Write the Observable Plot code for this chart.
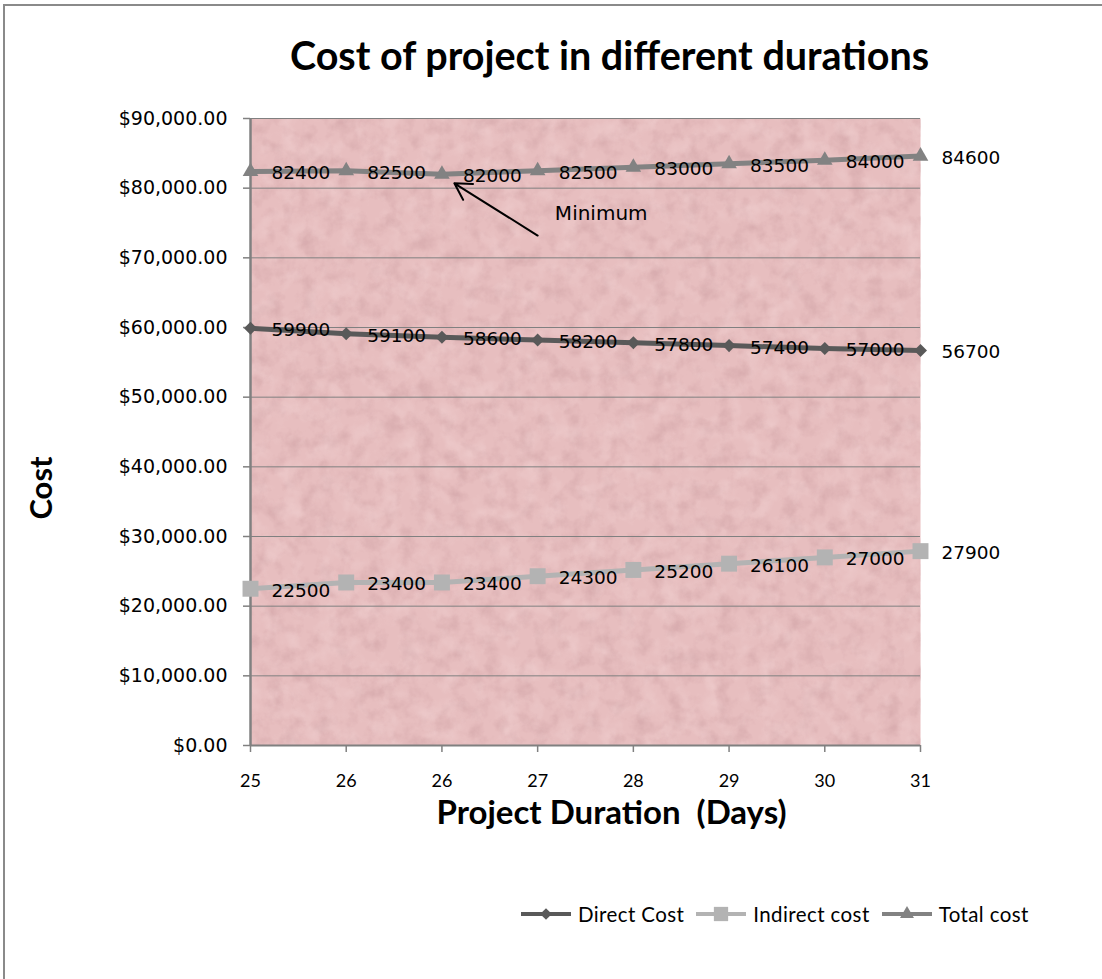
<!DOCTYPE html>
<html>
<head>
<meta charset="utf-8">
<script src="https://cdn.jsdelivr.net/npm/d3@7"></script>
<script src="https://cdn.jsdelivr.net/npm/@observablehq/plot@0.6"></script>
<style>
  html, body { margin: 0; padding: 0; background: #fff; }
  #wrap { position: relative; width: 1102px; height: 979px; overflow: hidden; }
  #border { position: absolute; left: 3px; top: 4px; right: -10px; bottom: -10px;
            border-top: 2px solid #8a8a8a; border-left: 2px solid #8a8a8a; pointer-events: none; }
  #chart svg { display: block; }
  g[aria-label="y-axis tick"] path, g[aria-label="x-axis tick"] path { stroke: #808080; stroke-width: 1.5; }
  #legend { position: absolute; left: 521px; top: 902px; display: flex; align-items: center;
            font-family: Lato, "Open Sans", sans-serif; font-size: 20.5px; letter-spacing: 0.4px; color: #000; }
  #legend .item { display: flex; align-items: center; margin-right: 12px; }
  #legend svg { margin-right: 7px; }
</style>
</head>
<body>
<div id="wrap">
  <div id="chart"></div>
  <div id="legend"></div>
  <div id="border"></div>
</div>
<script>
// ---- data ----
const xLabels = ["25", "26", "26", "27", "28", "29", "30", "31"];
const directCost = [59900, 59100, 58600, 58200, 57800, 57400, 57000, 56700];
const indirectCost = [22500, 23400, 23400, 24300, 25200, 26100, 27000, 27900];
const totalCost = [82400, 82500, 82000, 82500, 83000, 83500, 84000, 84600];
const seriesNames = ["Direct Cost", "Indirect cost", "Total cost"];
const seriesColors = ["#595959", "#b3b3b3", "#828282"];
const yTicks = [0, 10000, 20000, 30000, 40000, 50000, 60000, 70000, 80000, 90000];
const chartTitle = "Cost of project in different durations";
const xTitle = "Project Duration\u00a0 (Days)";
const yTitle = "Cost";
// annotation: arrow pointing at the minimum total cost (x in category-index units)
const minArrow = [{x1: 3.0, y1: 73200, x2: 2.13, y2: 80700}];
const minLabel = [{x: 3.18, y: 76400, text: "Minimum"}];

const seriesValues = [directCost, indirectCost, totalCost];
const seriesSymbols = [
  {symbol: "square", r: 5.2, rotate: 45},
  {symbol: "square", r: 9.0, rotate: 0},
  {symbol: "triangle", r: 5.8, rotate: 0}
];

const rows = seriesNames.map((name, s) =>
  seriesValues[s].map((v, i) => ({series: name, i, value: v})));

const bg = "#e7bebf";

const marks = [
  Plot.frame({fill: bg}),
  Plot.gridY(yTicks, {stroke: "#808080", strokeOpacity: 1, strokeWidth: 1}),
  Plot.ruleX([0], {stroke: "#808080", strokeWidth: 2.5}),
  Plot.ruleY([0], {stroke: "#808080", strokeWidth: 2}),
  Plot.axisY({ticks: yTicks, tickFormat: d => "$" + d3.format(",.2f")(d), tickSize: 7, tickPadding: 16,
              fontSize: 19, fontFamily: "DejaVu Sans", label: null}),
  Plot.axisX({ticks: d3.range(xLabels.length), tickFormat: i => xLabels[i], tickSize: 7, tickPadding: 22,
              fontSize: 18, fontFamily: "Lato", label: null})
];

rows.forEach((data, s) => {
  marks.push(Plot.line(data, {x: "i", y: "value", stroke: seriesColors[s], strokeWidth: 5}));
  marks.push(Plot.dot(data, {x: "i", y: "value", fill: seriesColors[s], stroke: "none",
    symbol: seriesSymbols[s].symbol, r: seriesSymbols[s].r, rotate: seriesSymbols[s].rotate}));
});
rows.forEach((data, s) => {
  marks.push(Plot.text(data, {x: "i", y: "value", text: d => String(d.value), dx: 21, dy: 2,
    textAnchor: "start", fontSize: 18.5, fontFamily: "DejaVu Sans", fill: "#000"}));
});

marks.push(
  Plot.arrow(minArrow, {x1: "x1", y1: "y1", x2: "x2", y2: "y2", stroke: "#000", strokeWidth: 2,
    headLength: 14, bend: 0}),
  Plot.text(minLabel, {x: "x", y: "y", text: "text", textAnchor: "start", fontSize: 20,
    fontFamily: "DejaVu Sans", fill: "#000"}),
  Plot.text([chartTitle], {text: d => d, frameAnchor: "top", lineAnchor: "middle", textAnchor: "middle",
    dx: 24, dy: -61, fontSize: 39.5, fontWeight: "bold", fontFamily: "Lato", fill: "#000"}),
  Plot.text([xTitle], {text: d => d, frameAnchor: "bottom", lineAnchor: "middle", textAnchor: "middle",
    dx: 26, dy: 68, fontSize: 33, fontWeight: "bold", fontFamily: "Lato", fill: "#000"}),
  Plot.text([yTitle], {text: d => d, frameAnchor: "left", lineAnchor: "middle", textAnchor: "middle",
    dx: -208, dy: 56, rotate: -90, fontSize: 31, fontWeight: "bold", fontFamily: "Lato", fill: "#000"})
);

const chart = Plot.plot({
  width: 1102,
  height: 979,
  marginLeft: 250,
  marginRight: 182,
  marginTop: 118,
  marginBottom: 234,
  x: {type: "linear", domain: [0, xLabels.length - 1]},
  y: {type: "linear", domain: [0, 90000]},
  style: {fontFamily: "DejaVu Sans", fontSize: "18px", background: "transparent", overflow: "visible", color: "#000"},
  marks
});
document.getElementById("chart").appendChild(chart);

// subtle paper texture over the plot area
(function addTexture() {
  const frame = chart.querySelector('[aria-label="frame"]');
  if (!frame) return;
  const ns = "http://www.w3.org/2000/svg";
  const defs = document.createElementNS(ns, "defs");
  defs.innerHTML = `<filter id="paper" x="0" y="0" width="100%" height="100%" color-interpolation-filters="sRGB">
    <feTurbulence type="fractalNoise" baseFrequency="0.06" numOctaves="4" seed="7" result="n"/>
    <feColorMatrix in="n" type="matrix" values="0 0 0 0 0.72  0 0 0 0 0.52  0 0 0 0 0.54  0 0 0 2.2 -0.95"/>
  </filter>
  <filter id="paper2" x="0" y="0" width="100%" height="100%" color-interpolation-filters="sRGB">
    <feTurbulence type="fractalNoise" baseFrequency="0.05" numOctaves="3" seed="21" result="n"/>
    <feColorMatrix in="n" type="matrix" values="0 0 0 0 0.97  0 0 0 0 0.87  0 0 0 0 0.87  0 0 0 2.2 -1.0"/>
  </filter>`;
  chart.insertBefore(defs, chart.firstChild);
  const rect = frame.tagName === "rect" ? frame : frame.querySelector("rect");
  if (!rect) return;
  const tex = rect.cloneNode(true);
  tex.setAttribute("fill", "#000");
  tex.setAttribute("filter", "url(#paper)");
  tex.setAttribute("opacity", "0.28");
  tex.removeAttribute("aria-label");
  const tex2 = rect.cloneNode(true);
  tex2.setAttribute("fill", "#000");
  tex2.setAttribute("filter", "url(#paper2)");
  tex2.setAttribute("opacity", "0.35");
  tex2.removeAttribute("aria-label");
  rect.parentNode.insertBefore(tex2, rect.nextSibling);
  rect.parentNode.insertBefore(tex, rect.nextSibling);
})();

// legend
const legend = document.getElementById("legend");
seriesNames.forEach((name, s) => {
  const item = document.createElement("div");
  item.className = "item";
  const sym = seriesSymbols[s];
  const sw = d3.create("svg").attr("width", 50).attr("height", 20);
  sw.append("line").attr("x1", 0).attr("x2", 50).attr("y1", 10).attr("y2", 10)
    .attr("stroke", seriesColors[s]).attr("stroke-width", 4);
  const symType = sym.symbol === "triangle" ? d3.symbolTriangle : d3.symbolSquare;
  sw.append("path").attr("d", d3.symbol(symType, Math.PI * sym.r * sym.r * 0.8)())
    .attr("transform", `translate(25,10) rotate(${sym.rotate})`).attr("fill", seriesColors[s]);
  item.appendChild(sw.node());
  const label = document.createElement("span");
  label.textContent = name;
  item.appendChild(label);
  legend.appendChild(item);
});
</script>
</body>
</html>
